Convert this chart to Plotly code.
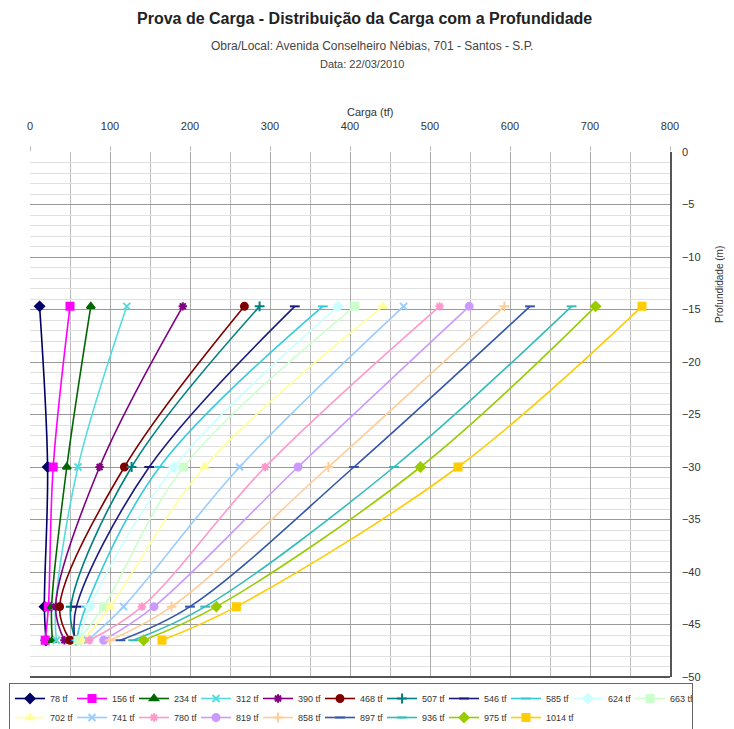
import plotly.graph_objects as go

depths = [-14.7, -30.0, -43.3, -46.5]

loads = ["78 tf", "156 tf", "234 tf", "312 tf", "390 tf", "468 tf", "507 tf", "546 tf",
         "585 tf", "624 tf", "663 tf", "702 tf", "741 tf", "780 tf", "819 tf", "858 tf",
         "897 tf", "936 tf", "975 tf", "1014 tf"]

s78 = [12, 22, 18, 20]
s156 = [50, 29, 23, 19]
s234 = [76, 46, 27, 28]
s312 = [121, 60, 32, 33]
s390 = [191, 87, 32, 43]
s468 = [268, 118, 37, 50]
s507 = [287, 127, 51, 57]
s546 = [331, 149, 58, 56]
s585 = [366, 162, 70, 58]
s624 = [385, 180, 75, 62]
s663 = [406, 192, 92, 60]
s702 = [441, 218, 100, 66]
s741 = [467, 262, 117, 72]
s780 = [512, 294, 140, 74]
s819 = [549, 335, 155, 92]
s858 = [593, 373, 177, 100]
s897 = [625, 405, 200, 113]
s936 = [677, 455, 219, 129]
s975 = [707, 488, 233, 142]
s1014 = [765, 535, 258, 165]

series = [s78, s156, s234, s312, s390, s468, s507, s546, s585, s624, s663, s702,
          s741, s780, s819, s858, s897, s936, s975, s1014]

colors = ["#000066", "#FF00FF", "#006600", "#55DDDD", "#800080", "#800000", "#008080",
          "#1a1a80", "#33CCDD", "#CCFFFF", "#CCFFCC", "#FFFF99", "#99CCFF", "#FF99CC",
          "#CC99FF", "#FFCC99", "#3355AA", "#33BBBB", "#99CC00", "#FFCC00"]

symbols = ["diamond", "square", "triangle-up", "x-thin-open", "asterisk-open", "circle",
           "cross-thin-open", "line-ew-open", "line-ew-open", "diamond", "square",
           "triangle-up", "x-thin-open", "asterisk-open", "circle", "cross-thin-open",
           "line-ew-open", "line-ew-open", "diamond", "square"]

FONT = "Liberation Sans Narrow, Arial Narrow, Liberation Sans, Arial, sans-serif"

W, H = 734, 729
L, R, T, B = 0, 30, 152, 52          # paper margins
PL, PR = 30, 670                     # plot area left/right in px
PW, PH = W - L - R, H - T - B


def px_x(p):
    return (p - L) / PW


def px_y(p):
    return (H - B - p) / PH


fig = go.Figure()
for name, vals, c, sym in zip(loads, series, colors, symbols):
    fig.add_trace(go.Scatter(
        x=vals, y=depths, name=name, mode="lines+markers",
        line=dict(color=c, width=1.6, shape="spline", smoothing=1.0),
        marker=dict(symbol=sym, size=7, color=c, line=dict(color=c, width=2)),
    ))

fig.update_layout(
    width=W, height=H,
    margin=dict(l=L, r=R, t=T, b=B, autoexpand=False),
    paper_bgcolor="white", plot_bgcolor="white",
    font=dict(family=FONT, size=11, color="#333"),
    showlegend=True,
    legend=dict(orientation="h", x=px_x(9), y=px_y(683), xanchor="left", yanchor="top",
                bordercolor="#666", borderwidth=1, font=dict(size=9, family=FONT),
                entrywidth=17, itemwidth=30, tracegroupgap=0, traceorder="normal"),
    xaxis=dict(side="top", range=[0, 800], dtick=100, tick0=0,
               domain=[px_x(PL), px_x(PR)],
               showgrid=True, gridcolor="#aaa", gridwidth=1,
               minor=dict(dtick=50, showgrid=True, gridcolor="#bbb", gridwidth=1),
               showline=False, zeroline=False, ticks="outside", ticklen=5,
               tickcolor="#bbb", ticklabelstandoff=12,
               tickfont=dict(size=11, family=FONT, color="#333")),
    yaxis=dict(side="right", range=[-50, 0], dtick=5, tick0=0,
               showgrid=True, gridcolor="#999", gridwidth=1,
               minor=dict(dtick=1, showgrid=True, gridcolor="#e0e0e0", gridwidth=1),
               showline=True, linecolor="#555", linewidth=1.5, zeroline=False,
               ticks="", ticklabelstandoff=8,
               tickfont=dict(size=11, family=FONT, color="#333")),
    shapes=[dict(type="line", xref="x domain", yref="y domain", x0=0, x1=1, y0=0, y1=0,
                 line=dict(color="#555", width=2))],
    annotations=[
        dict(text="<b>Prova de Carga - Distribuição da Carga com a Profundidade</b>",
             xref="paper", yref="paper", x=px_x(364), y=px_y(18),
             xanchor="center", yanchor="middle", showarrow=False,
             font=dict(size=16, family=FONT, color="#222")),
        dict(text="Obra/Local: Avenida Conselheiro Nébias, 701 - Santos - S.P.",
             xref="paper", yref="paper", x=px_x(372), y=px_y(46),
             xanchor="center", yanchor="middle", showarrow=False,
             font=dict(size=12, family=FONT, color="#444")),
        dict(text="Data: 22/03/2010",
             xref="paper", yref="paper", x=px_x(362), y=px_y(64),
             xanchor="center", yanchor="middle", showarrow=False,
             font=dict(size=11, family=FONT, color="#444")),
        dict(text="Carga (tf)",
             xref="paper", yref="paper", x=px_x(370), y=px_y(112),
             xanchor="center", yanchor="middle", showarrow=False,
             font=dict(size=11, family=FONT, color="#333")),
        dict(text="Profundidade (m)", textangle=-90,
             xref="paper", yref="paper", x=px_x(719), y=px_y(285),
             xanchor="center", yanchor="middle", showarrow=False,
             font=dict(size=10, family=FONT, color="#333")),
    ],
)

fig.write_html("out.html", config={"displayModeBar": False},
               post_script="document.body.style.margin='0px';")
